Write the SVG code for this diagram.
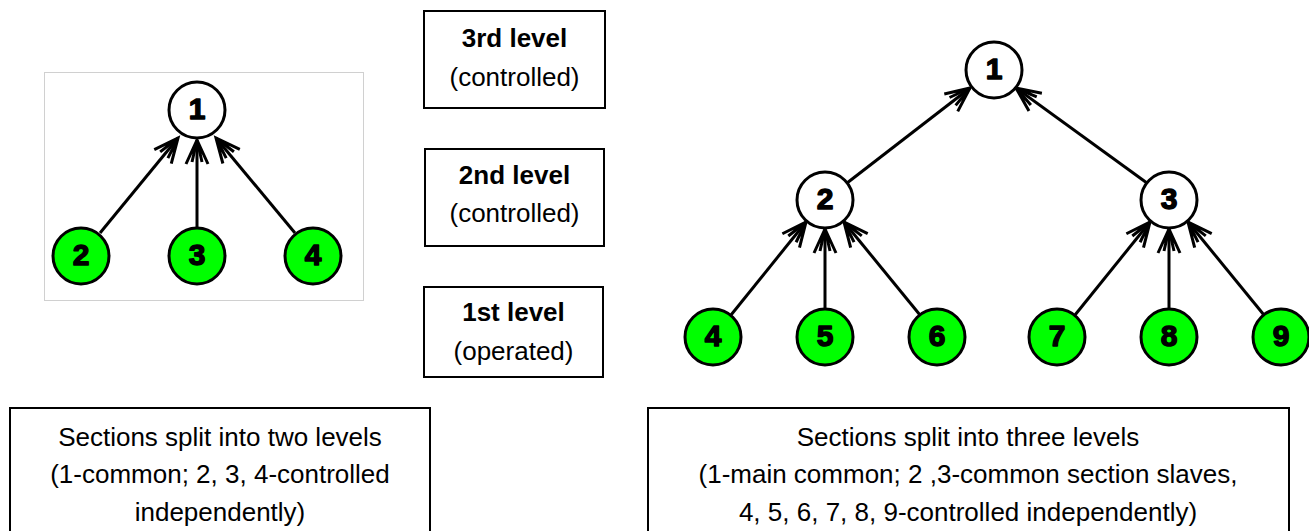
<svg xmlns="http://www.w3.org/2000/svg" width="1309" height="531" viewBox="0 0 1309 531">
<defs>
<style>
.node{stroke:#000;stroke-width:3}
.ctl{fill:#fff}
.op{fill:#00ff00}
.num{font-family:"Liberation Sans",Arial,sans-serif;font-weight:bold;font-size:30px;text-anchor:middle;fill:#000;stroke:#000;stroke-width:1.4;stroke-linejoin:round}
.edge{stroke:#000;stroke-width:3;fill:none;marker-end:url(#arr)}
.box{fill:#fff;stroke:#000;stroke-width:2}
.lbl{font-family:"Liberation Sans",Arial,sans-serif;font-size:26px;text-anchor:middle;fill:#000}
.b{font-weight:bold}
</style>
<marker id="arr" viewBox="-30 -15 33 30" refX="0" refY="0" markerWidth="33" markerHeight="30" markerUnits="userSpaceOnUse" orient="auto" overflow="visible">
<path d="M-24,-11 L0,0 L-24,11 M-22,-5 L0,0 L-22,5" fill="none" stroke="#000" stroke-width="3"/>
</marker>
</defs>
<rect width="1309" height="531" fill="#fff"/>
<rect x="44.5" y="72.5" width="319" height="228" fill="none" stroke="#d0d0d0" stroke-width="1"/>
<g id="connectors">
<line class="edge" x1="100" y1="233" x2="178" y2="138"/>
<line class="edge" x1="197" y1="228" x2="197" y2="140"/>
<line class="edge" x1="295" y1="233" x2="216" y2="138"/>
<line class="edge" x1="847" y1="183" x2="970" y2="88"/>
<line class="edge" x1="1147" y1="183" x2="1016" y2="88"/>
<line class="edge" x1="731" y1="315" x2="806" y2="222"/>
<line class="edge" x1="825" y1="309" x2="825" y2="229"/>
<line class="edge" x1="920" y1="315" x2="844" y2="222"/>
<line class="edge" x1="1075" y1="315" x2="1150" y2="222"/>
<line class="edge" x1="1169" y1="309" x2="1169" y2="229"/>
<line class="edge" x1="1264" y1="315" x2="1188" y2="222"/>
</g>
<g id="L1"><circle class="node ctl" cx="197" cy="110" r="28"/><text class="num" x="197" y="119">1</text></g>
<g id="L2"><circle class="node op" cx="81" cy="256" r="28"/><text class="num" x="81" y="265">2</text></g>
<g id="L3"><circle class="node op" cx="197" cy="256" r="28"/><text class="num" x="197" y="265">3</text></g>
<g id="L4"><circle class="node op" cx="313" cy="256" r="28"/><text class="num" x="313" y="265">4</text></g>
<g id="R1"><circle class="node ctl" cx="994" cy="70" r="28"/><text class="num" x="994" y="79">1</text></g>
<g id="R2"><circle class="node ctl" cx="825" cy="200" r="28"/><text class="num" x="825" y="209">2</text></g>
<g id="R3"><circle class="node ctl" cx="1169" cy="200" r="28"/><text class="num" x="1169" y="209">3</text></g>
<g id="R4"><circle class="node op" cx="713" cy="337" r="28"/><text class="num" x="713" y="346">4</text></g>
<g id="R5"><circle class="node op" cx="825" cy="337" r="28"/><text class="num" x="825" y="346">5</text></g>
<g id="R6"><circle class="node op" cx="937" cy="337" r="28"/><text class="num" x="937" y="346">6</text></g>
<g id="R7"><circle class="node op" cx="1057" cy="337" r="28"/><text class="num" x="1057" y="346">7</text></g>
<g id="R8"><circle class="node op" cx="1169" cy="337" r="28"/><text class="num" x="1169" y="346">8</text></g>
<g id="R9"><circle class="node op" cx="1281" cy="337" r="28"/><text class="num" x="1281" y="346">9</text></g>
<g id="level3"><rect class="box" x="424" y="11" width="181" height="97"/><text class="lbl b" x="514.5" y="47">3rd level</text><text class="lbl" x="514.5" y="86">(controlled)</text></g>
<g id="level2"><rect class="box" x="425" y="149" width="179" height="97"/><text class="lbl b" x="514.5" y="184">2nd level</text><text class="lbl" x="514.5" y="222">(controlled)</text></g>
<g id="level1"><rect class="box" x="424" y="287" width="179" height="90"/><text class="lbl b" x="513.5" y="321">1st level</text><text class="lbl" x="513.5" y="360">(operated)</text></g>
<g id="caption2"><rect class="box" x="10" y="408" width="420" height="130"/>
<text class="lbl" x="220" y="446">Sections split into two levels</text>
<text class="lbl" x="220" y="483">(1-common; 2, 3, 4-controlled</text>
<text class="lbl" x="220" y="521">independently)</text></g>
<g id="caption3"><rect class="box" x="648" y="408" width="641" height="130"/>
<text class="lbl" x="968" y="446">Sections split into three levels</text>
<text class="lbl" x="968" y="483">(1-main common; 2 ,3-common section slaves,</text>
<text class="lbl" x="968" y="521">4, 5, 6, 7, 8, 9-controlled independently)</text></g>
</svg>
